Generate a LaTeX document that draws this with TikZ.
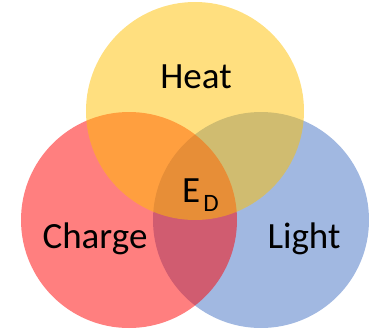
\documentclass[tikz,border=0pt]{standalone}
\usepackage{fontspec}
\setmainfont{Carlito}
\definecolor{heatc}{RGB}{255,192,0}
\definecolor{chargec}{RGB}{255,0,0}
\definecolor{lightc}{RGB}{68,114,196}
\tikzset{
  set/.style={fill=#1, fill opacity=0.5, draw=none},
  lbl/.style={anchor=base, inner sep=0pt, font=\fontsize{37}{44}\selectfont, text=black}
}
\begin{document}
\begin{tikzpicture}[x=1pt, y=-1pt]
  \useasboundingbox (0,0) rectangle (369,329);
  % three overlapping sets
  \fill[set=lightc]  (261,220) circle[radius=108];
  \fill[set=chargec] (129,220) circle[radius=108];
  \fill[set=heatc]   (195,111) circle[radius=109];
  % labels
  \node[lbl] (heat)   at (196,88)  {Heat};
  \node[lbl] (charge) at (95,248)  {Charge};
  \node[lbl] (light)  at (304,248) {Light};
  \node[lbl, anchor=base west] (ed) at (182,202) {E\kern3pt\raisebox{-9pt}{\fontsize{25}{30}\selectfont D}};
\end{tikzpicture}
\end{document}
